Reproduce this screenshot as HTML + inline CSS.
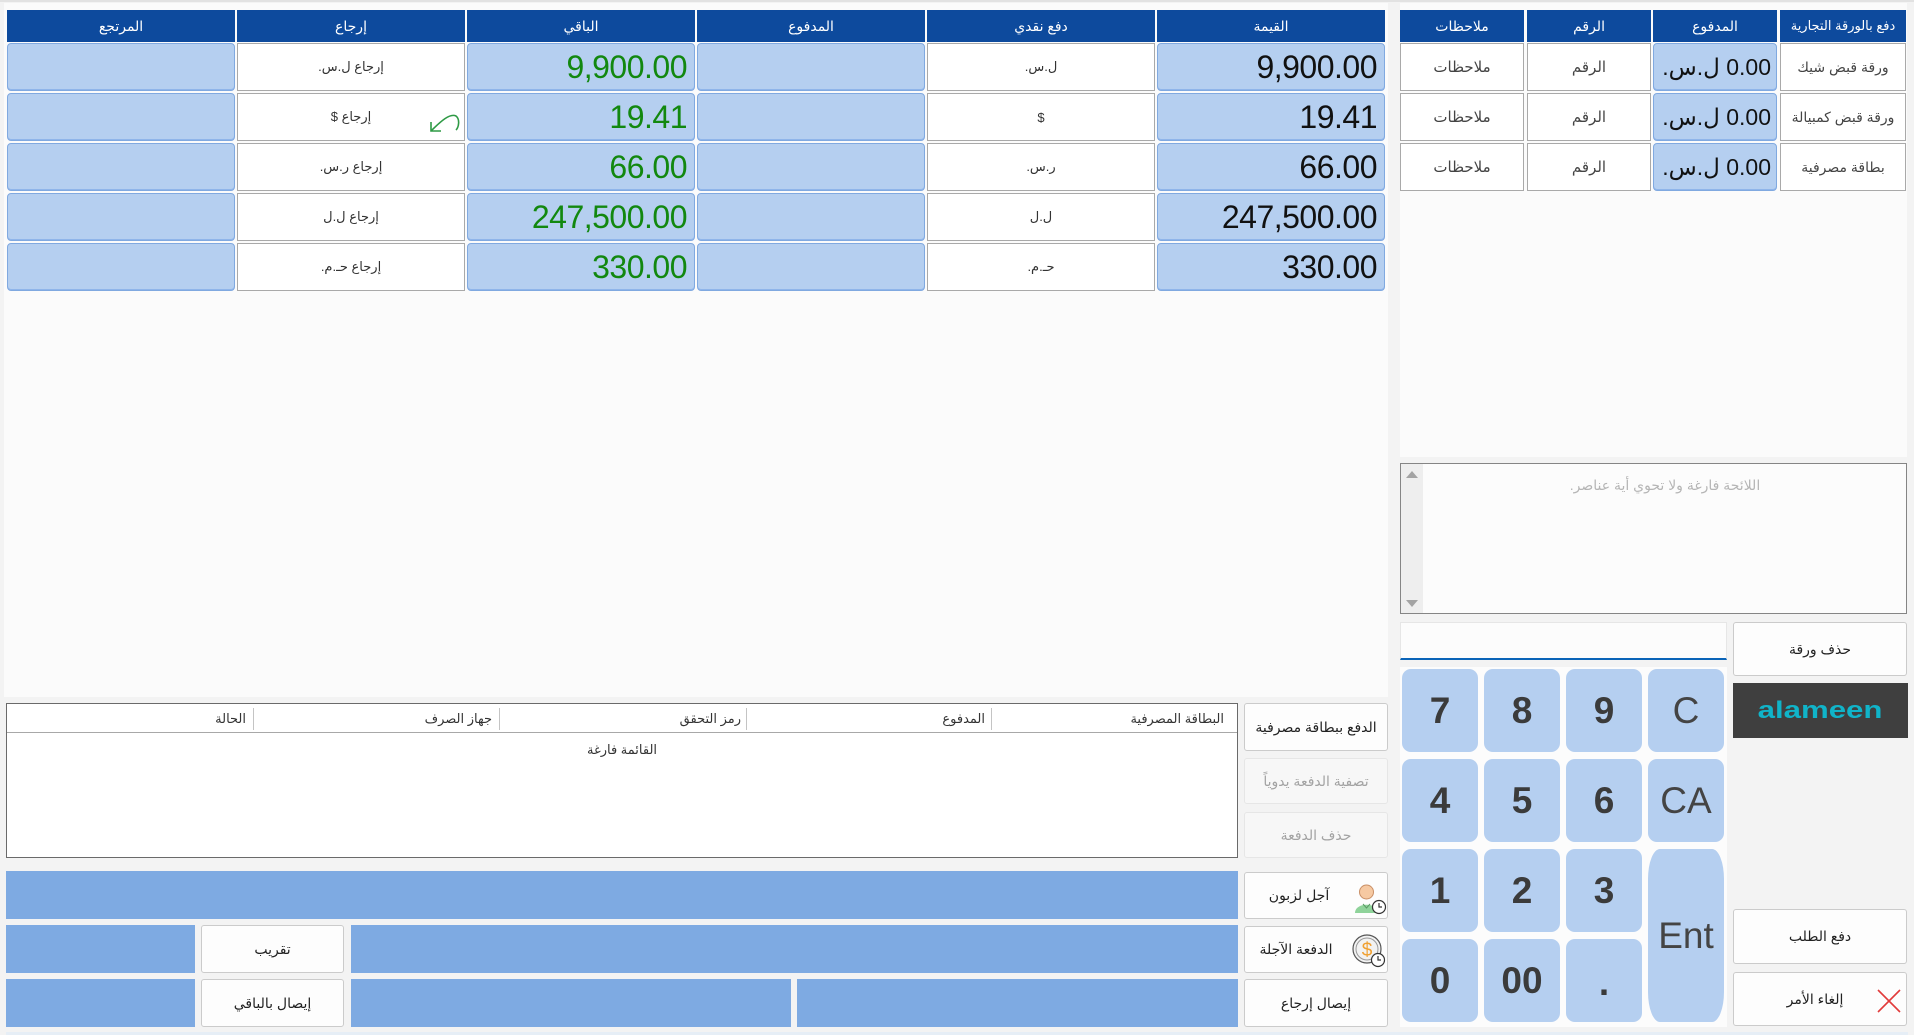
<!DOCTYPE html>
<html><head><meta charset="utf-8">
<style>
*{box-sizing:border-box;margin:0;padding:0}
body{width:1914px;height:1035px;overflow:hidden;background:#f3f3f3;position:relative;font-family:"Liberation Sans","DejaVu Sans",sans-serif;}
.a{position:absolute}
.f{display:flex;align-items:center;justify-content:center;white-space:nowrap}
.h{background:#0d4a9d;color:#fff;font-size:14px;height:32px;top:10px}
.w{background:#fff;border:1px solid #a9a9a9;color:#333;font-size:13px}
.rw{background:#fff;border:1px solid #a9a9a9;color:#444;font-size:15px}
.b{background:#b5cff0;border:1px solid #80a9e0;border-radius:4px;box-shadow:inset 0 -1px 0 #8fb5ea}
.v{justify-content:flex-end;padding-right:7px;font-size:32px;letter-spacing:-0.5px;color:#111}
.g{color:#12880f}
.k{background:#b5cff0;border-radius:9px;color:#3b3b3b;font-size:37px;font-weight:bold;width:76px;height:83px}
.kn{font-weight:normal;color:#444}
.bt{background:#fdfdfd;border:1px solid #cbcbcb;border-radius:3px;color:#222;font-size:14px}
.dis{background:#f7f7f7;border:1px solid #e6e6e6;color:#a3a3a3}
.bar{background:#7eaae2}
.lh{top:711px;height:18px;font-size:13px;color:#333;text-align:right;white-space:nowrap}
.pv{justify-content:flex-end;padding-right:5px;font-size:23px;color:#111}
</style></head><body>
<div class="a" style="left:0;top:0;width:1914px;height:2px;background:#e2e2e2"></div>
<div class="a" style="left:4px;top:3px;width:1384px;height:694px;background:#fbfbfb"></div>
<div class="a" style="left:1400px;top:3px;width:507px;height:454px;background:#fbfbfb"></div>

<div class="a f h" style="left:7px;width:228px" dir="rtl">المرتجع</div>
<div class="a f h" style="left:237px;width:228px" dir="rtl">إرجاع</div>
<div class="a f h" style="left:467px;width:228px" dir="rtl">الباقي</div>
<div class="a f h" style="left:697px;width:228px" dir="rtl">المدفوع</div>
<div class="a f h" style="left:927px;width:228px" dir="rtl">دفع نقدي</div>
<div class="a f h" style="left:1157px;width:228px" dir="rtl">القيمة</div>

<div class="a b" style="left:7px;top:43px;width:228px;height:48px"></div>
<div class="a f w" style="left:237px;top:43px;width:228px;height:48px" dir="rtl">إرجاع ل.س.</div>
<div class="a f b v g" style="left:467px;top:43px;width:228px;height:48px">9,900.00</div>
<div class="a b" style="left:697px;top:43px;width:228px;height:48px"></div>
<div class="a f w" style="left:927px;top:43px;width:228px;height:48px" dir="rtl">ل.س.</div>
<div class="a f b v" style="left:1157px;top:43px;width:228px;height:48px">9,900.00</div>

<div class="a b" style="left:7px;top:93px;width:228px;height:48px"></div>
<div class="a f w" style="left:237px;top:93px;width:228px;height:48px" dir="rtl">إرجاع $</div>
<svg class="a" style="left:429px;top:112px" width="32" height="22" viewBox="0 0 32 22"><path d="M2,19 C12,9 21,1 27,4 C31,7 30,15 27,18" fill="none" stroke="#2e9a45" stroke-width="1.6"/><path d="M2,10 L2,19 L12,19" fill="none" stroke="#2e9a45" stroke-width="1.6"/></svg>
<div class="a f b v g" style="left:467px;top:93px;width:228px;height:48px">19.41</div>
<div class="a b" style="left:697px;top:93px;width:228px;height:48px"></div>
<div class="a f w" style="left:927px;top:93px;width:228px;height:48px">$</div>
<div class="a f b v" style="left:1157px;top:93px;width:228px;height:48px">19.41</div>

<div class="a b" style="left:7px;top:143px;width:228px;height:48px"></div>
<div class="a f w" style="left:237px;top:143px;width:228px;height:48px" dir="rtl">إرجاع ر.س.</div>
<div class="a f b v g" style="left:467px;top:143px;width:228px;height:48px">66.00</div>
<div class="a b" style="left:697px;top:143px;width:228px;height:48px"></div>
<div class="a f w" style="left:927px;top:143px;width:228px;height:48px" dir="rtl">ر.س.</div>
<div class="a f b v" style="left:1157px;top:143px;width:228px;height:48px">66.00</div>

<div class="a b" style="left:7px;top:193px;width:228px;height:48px"></div>
<div class="a f w" style="left:237px;top:193px;width:228px;height:48px" dir="rtl">إرجاع ل.ل</div>
<div class="a f b v g" style="left:467px;top:193px;width:228px;height:48px">247,500.00</div>
<div class="a b" style="left:697px;top:193px;width:228px;height:48px"></div>
<div class="a f w" style="left:927px;top:193px;width:228px;height:48px" dir="rtl">ل.ل</div>
<div class="a f b v" style="left:1157px;top:193px;width:228px;height:48px">247,500.00</div>

<div class="a b" style="left:7px;top:243px;width:228px;height:48px"></div>
<div class="a f w" style="left:237px;top:243px;width:228px;height:48px" dir="rtl">إرجاع حـ.م.</div>
<div class="a f b v g" style="left:467px;top:243px;width:228px;height:48px">330.00</div>
<div class="a b" style="left:697px;top:243px;width:228px;height:48px"></div>
<div class="a f w" style="left:927px;top:243px;width:228px;height:48px" dir="rtl">حـ.م.</div>
<div class="a f b v" style="left:1157px;top:243px;width:228px;height:48px">330.00</div>

<div class="a f h" style="left:1400px;width:124px" dir="rtl">ملاحظات</div>
<div class="a f h" style="left:1527px;width:124px" dir="rtl">الرقم</div>
<div class="a f h" style="left:1653px;width:124px" dir="rtl">المدفوع</div>
<div class="a f h" style="left:1780px;width:126px;font-size:13px" dir="rtl">دفع بالورقة التجارية</div>

<div class="a f rw" style="left:1400px;top:43px;width:124px;height:48px" dir="rtl">ملاحظات</div>
<div class="a f rw" style="left:1527px;top:43px;width:124px;height:48px" dir="rtl">الرقم</div>
<div class="a f b pv" style="left:1653px;top:43px;width:124px;height:48px"><span dir="rtl">0.00 ل.س.</span></div>
<div class="a f rw" style="left:1780px;top:43px;width:126px;height:48px;font-size:14px" dir="rtl">ورقة قبض شيك</div>

<div class="a f rw" style="left:1400px;top:93px;width:124px;height:48px" dir="rtl">ملاحظات</div>
<div class="a f rw" style="left:1527px;top:93px;width:124px;height:48px" dir="rtl">الرقم</div>
<div class="a f b pv" style="left:1653px;top:93px;width:124px;height:48px"><span dir="rtl">0.00 ل.س.</span></div>
<div class="a f rw" style="left:1780px;top:93px;width:126px;height:48px;font-size:14px" dir="rtl">ورقة قبض كمبيالة</div>

<div class="a f rw" style="left:1400px;top:143px;width:124px;height:48px" dir="rtl">ملاحظات</div>
<div class="a f rw" style="left:1527px;top:143px;width:124px;height:48px" dir="rtl">الرقم</div>
<div class="a f b pv" style="left:1653px;top:143px;width:124px;height:48px"><span dir="rtl">0.00 ل.س.</span></div>
<div class="a f rw" style="left:1780px;top:143px;width:126px;height:48px;font-size:14px" dir="rtl">بطاقة مصرفية</div>

<div class="a" style="left:1400px;top:463px;width:507px;height:151px;background:#fcfcfc;border:1px solid #858585"></div>
<div class="a" style="left:1401px;top:464px;width:22px;height:149px;background:#eeeeee"></div>
<svg class="a" style="left:1405px;top:470px" width="14" height="10"><path d="M1,8 L7,1 L13,8 Z" fill="#a3a3a3"/></svg>
<svg class="a" style="left:1405px;top:598px" width="14" height="10"><path d="M1,2 L7,9 L13,2 Z" fill="#a3a3a3"/></svg>
<div class="a" style="left:1423px;top:477px;width:484px;height:20px;text-align:center;font-size:14px;color:#b5b5b5;white-space:nowrap" dir="rtl">اللائحة فارغة ولا تحوي أية عناصر.</div>

<div class="a" style="left:1400px;top:622px;width:327px;height:38px;background:#fcfcfc;border:1px solid #e6e6e6;border-bottom:2px solid #0a64b8"></div>
<div class="a" style="left:1400px;top:667px;width:327px;height:360px;background:#fcfcfc"></div>
<div class="a f k" style="left:1402px;top:669px">7</div>
<div class="a f k" style="left:1484px;top:669px">8</div>
<div class="a f k" style="left:1566px;top:669px">9</div>
<div class="a f k kn" style="left:1648px;top:669px">C</div>
<div class="a f k" style="left:1402px;top:759px">4</div>
<div class="a f k" style="left:1484px;top:759px">5</div>
<div class="a f k" style="left:1566px;top:759px">6</div>
<div class="a f k kn" style="left:1648px;top:759px">CA</div>
<div class="a f k" style="left:1402px;top:849px">1</div>
<div class="a f k" style="left:1484px;top:849px">2</div>
<div class="a f k" style="left:1566px;top:849px">3</div>
<div class="a f k kn" style="left:1648px;top:849px;height:173px;border-radius:12px/30px">Ent</div>
<div class="a f k" style="left:1402px;top:939px">0</div>
<div class="a f k" style="left:1484px;top:939px">00</div>
<div class="a f k" style="left:1566px;top:939px;align-items:flex-end;padding-bottom:18px">.</div>

<div class="a f bt" style="left:1733px;top:622px;width:174px;height:54px" dir="rtl">حذف ورقة</div>
<div class="a f" style="left:1733px;top:683px;width:175px;height:55px;background:#3f3f3f"><span style="color:#10b4c9;font-size:24px;font-weight:bold;display:inline-block;transform:scaleX(1.3)">alameen</span></div>
<div class="a f bt" style="left:1733px;top:909px;width:174px;height:55px" dir="rtl">دفع الطلب</div>
<div class="a f bt" style="left:1733px;top:972px;width:174px;height:54px;padding-right:10px" dir="rtl">إلغاء الأمر</div>
<svg class="a" style="left:1876px;top:988px" width="26" height="26"><path d="M2,2 L24,24 M24,2 L2,24" stroke="#e23b3b" stroke-width="1.6"/></svg>

<div class="a" style="left:6px;top:703px;width:1232px;height:155px;background:#fff;border:1px solid #6a6a6a"></div>
<div class="a" style="left:7px;top:732px;width:1230px;height:1px;background:#a8a8a8"></div>
<div class="a" style="left:253px;top:708px;width:1px;height:22px;background:#c4c4c4"></div>
<div class="a" style="left:499px;top:708px;width:1px;height:22px;background:#c4c4c4"></div>
<div class="a" style="left:746px;top:708px;width:1px;height:22px;background:#c4c4c4"></div>
<div class="a" style="left:991px;top:708px;width:1px;height:22px;background:#c4c4c4"></div>
<div class="a lh" style="left:1000px;width:224px" dir="rtl">البطاقة المصرفية</div>
<div class="a lh" style="left:760px;width:225px" dir="rtl">المدفوع</div>
<div class="a lh" style="left:510px;width:231px" dir="rtl">رمز التحقق</div>
<div class="a lh" style="left:260px;width:232px" dir="rtl">جهاز الصرف</div>
<div class="a lh" style="left:10px;width:236px" dir="rtl">الحالة</div>
<div class="a" style="left:560px;top:742px;width:124px;height:18px;text-align:center;font-size:13px;color:#333;white-space:nowrap" dir="rtl">القائمة فارغة</div>

<div class="a f bt" style="left:1244px;top:703px;width:144px;height:48px" dir="rtl">الدفع ببطاقة مصرفية</div>
<div class="a f bt dis" style="left:1244px;top:758px;width:144px;height:46px" dir="rtl">تصفية الدفعة يدوياً</div>
<div class="a f bt dis" style="left:1244px;top:812px;width:144px;height:46px" dir="rtl">حذف الدفعة</div>
<div class="a f bt" style="left:1244px;top:872px;width:144px;height:47px;padding-right:34px" dir="rtl">آجل لزبون</div>
<svg class="a" style="left:1353px;top:881px" width="34" height="34" viewBox="0 0 34 34"><path d="M2,32 C2,21 25,21 25,32 Z" fill="#8fd39a"/><path d="M10,23 L13.5,27 L17,23" fill="none" stroke="#5a9a64" stroke-width="1"/><circle cx="13.5" cy="11" r="7" fill="#f6c9a2" stroke="#c98f66" stroke-width="1"/><circle cx="26" cy="26" r="6.5" fill="#fff" stroke="#333" stroke-width="1.2"/><path d="M26,22 L26,26 L29,26" fill="none" stroke="#333" stroke-width="1.2"/></svg>
<div class="a f bt" style="left:1244px;top:926px;width:144px;height:47px;padding-right:40px" dir="rtl">الدفعة الآجلة</div>
<svg class="a" style="left:1352px;top:934px" width="34" height="34" viewBox="0 0 34 34"><circle cx="15" cy="15" r="14" fill="#f2f2f2" stroke="#555" stroke-width="1.2"/><circle cx="15" cy="15" r="11" fill="none" stroke="#999" stroke-width="1"/><text x="15" y="22" text-anchor="middle" font-size="19" font-family="Liberation Sans, sans-serif" fill="#f0a030">$</text><circle cx="26" cy="26" r="6.5" fill="#fff" stroke="#333" stroke-width="1.2"/><path d="M26,22 L26,26 L29,26" fill="none" stroke="#333" stroke-width="1.2"/></svg>
<div class="a f bt" style="left:1244px;top:979px;width:144px;height:48px" dir="rtl">إيصال إرجاع</div>

<div class="a bar" style="left:6px;top:871px;width:1232px;height:48px"></div>
<div class="a bar" style="left:6px;top:925px;width:189px;height:48px"></div>
<div class="a f bt" style="left:201px;top:925px;width:143px;height:48px" dir="rtl">تقريب</div>
<div class="a bar" style="left:351px;top:925px;width:887px;height:48px"></div>
<div class="a bar" style="left:6px;top:979px;width:189px;height:48px"></div>
<div class="a f bt" style="left:201px;top:979px;width:143px;height:48px" dir="rtl">إيصال بالباقي</div>
<div class="a bar" style="left:351px;top:979px;width:440px;height:48px"></div>
<div class="a bar" style="left:797px;top:979px;width:441px;height:48px"></div>

<div class="a" style="left:6px;top:1032px;width:1902px;height:3px;background:#e6eef6"></div>
</body></html>
